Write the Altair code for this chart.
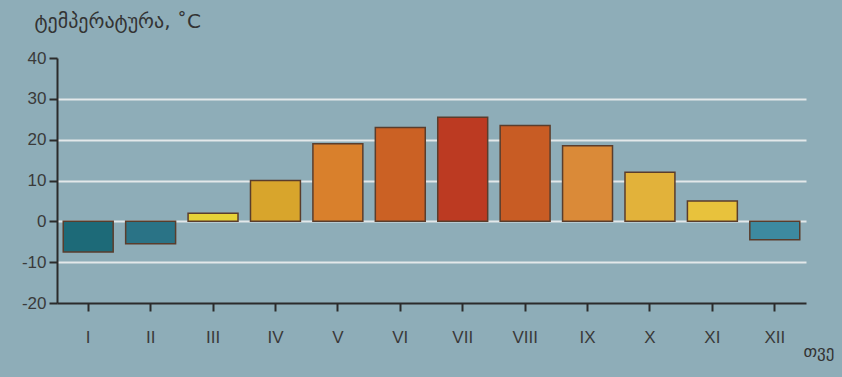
import altair as alt
import pandas as pd

months = ["I", "II", "III", "IV", "V", "VI", "VII", "VIII", "IX", "X", "XI", "XII"]
temps = [-7.5, -5.5, 2, 10, 19, 23, 25.5, 23.5, 18.5, 12, 5, -4.5]
colors = ["#1d6a78", "#2a7386", "#e6d238", "#d8a52c", "#d9802c", "#cb6124",
          "#bc3a22", "#c85c24", "#da8a38", "#e2b23a", "#e8c23c", "#3d8aa0"]
y_ticks = [-20, -10, 0, 10, 20, 30, 40]

df = pd.DataFrame({"month": months, "temp": temps, "color": colors})

chart = alt.Chart(df).mark_bar(stroke="#5a3d2c", strokeWidth=1.5).encode(
    x=alt.X("month:N", sort=months,
            scale=alt.Scale(paddingInner=0.2, paddingOuter=0.1),
            axis=alt.Axis(title="თვე", titleX=746, titleY=40, titleAlign="left",
                          titleFont="DejaVu Sans", titleFontSize=17, titleFontWeight="normal",
                          titleColor="#333333",
                          labelAngle=0, labelFont="Liberation Sans", labelFontSize=17,
                          labelColor="#3a3a3a", labelPadding=18,
                          domainColor="#2b2b2b", domainWidth=2,
                          tickColor="#2b2b2b", tickWidth=2, tickSize=8, grid=False)),
    y=alt.Y("temp:Q", scale=alt.Scale(domain=[-20, 40], nice=False),
            axis=alt.Axis(values=y_ticks, title="ტემპერატურა, ˚C",
                          labelExpr="replace(datum.label, '−', '-')",
                          titleAngle=0, titleAlign="left", titleBaseline="alphabetic",
                          titleX=-23, titleY=-31, titleFont="DejaVu Sans",
                          titleFontSize=20, titleFontWeight="normal", titleColor="#333333",
                          labelFont="Liberation Sans", labelFontSize=17, labelColor="#3a3a3a",
                          labelPadding=3,
                          domainColor="#2b2b2b", domainWidth=2,
                          tickColor="#2b2b2b", tickWidth=2, tickSize=8,
                          grid=True, gridColor="#f2f2f2", gridWidth=2,
                          gridOpacity=alt.condition("datum.value == 40 || datum.value == -20",
                                                    alt.value(0), alt.value(0.85)))),
    y2=alt.datum(0),
    color=alt.Color("color:N", scale=None),
).properties(
    width=749, height=245,
    background="#8eadb8",
    padding={"left": 57, "top": 58, "right": 36, "bottom": 74},
    autosize=alt.AutoSizeParams(type="none"),
).configure_view(stroke=None)

chart.save("out.html", embed_options={"renderer": "svg", "actions": False})
